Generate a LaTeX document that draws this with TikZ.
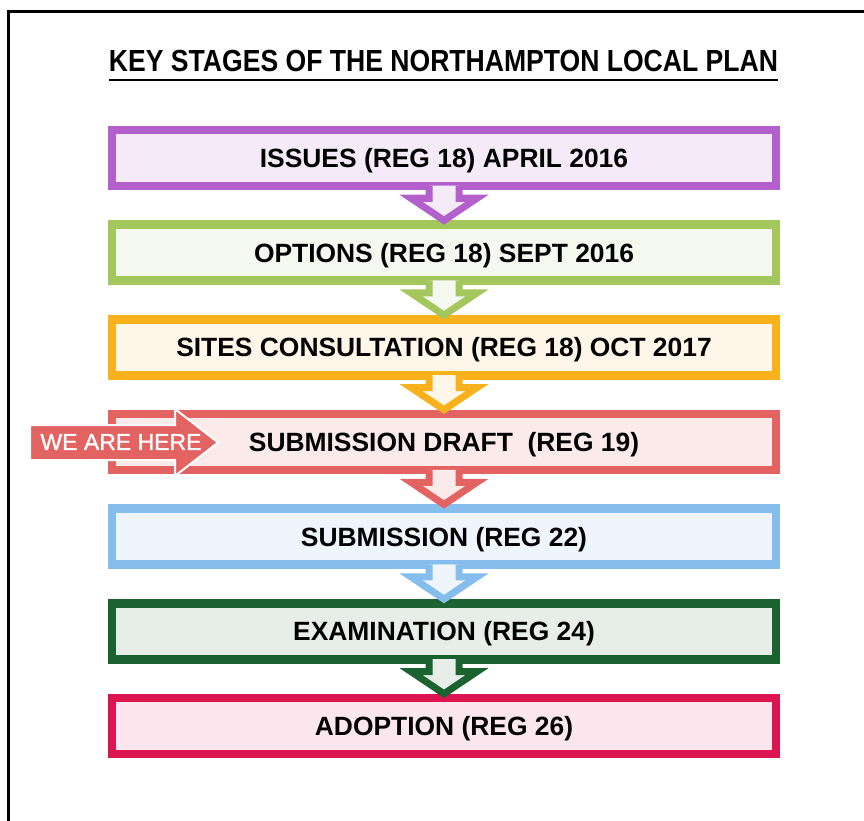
\documentclass[tikz,border=0pt]{standalone}
\usepackage{fontspec}
\setmainfont{Liberation Sans}
\newfontfamily\herefont[FakeBold=1.2]{Liberation Sans}
\definecolor{cA}{HTML}{B35FCC}\definecolor{fA}{HTML}{F5EAF8}
\definecolor{cB}{HTML}{A3C75D}\definecolor{fB}{HTML}{F4F8EE}
\definecolor{cC}{HTML}{FAB21C}\definecolor{fC}{HTML}{FEF6E8}
\definecolor{cD}{HTML}{E36363}\definecolor{fD}{HTML}{FBEAEA}
\definecolor{cE}{HTML}{85BEEC}\definecolor{fE}{HTML}{EEF5FC}
\definecolor{cF}{HTML}{1A6330}\definecolor{fF}{HTML}{E7EEE9}
\definecolor{cG}{HTML}{DC1450}\definecolor{fG}{HTML}{FBE6EE}
\begin{document}
\begin{tikzpicture}[x=1pt,y=1pt,
  stage/.style={draw, line width=8.5pt, minimum width=664pt, minimum height=56pt,
    inner sep=0pt, text height=18.9pt, text depth=0pt,
    font=\fontsize{26.4}{30}\selectfont\bfseries},
  flow/.style={line width=7pt, line join=miter, miter limit=10}]
\useasboundingbox (0,0) rectangle (864,-821);
\fill[white] (0,0) rectangle (864,-821);
\draw[line width=3pt] (8.5,-821) -- (8.5,-12) -- (864,-12);

\node[anchor=base, inner sep=0pt, font=\fontsize{30.5}{34}\selectfont\bfseries] (title) at (443.5,-72)
  {\scalebox{0.871}[1]{KEY STAGES OF THE NORTHAMPTON LOCAL PLAN}};
\draw[line width=2.5pt] ([yshift=-8pt]title.base west) -- ([yshift=-8pt]title.base east);

\node[stage, draw=cA, fill=fA] (b1) at (444,-158) {ISSUES (REG 18) APRIL 2016};
\node[stage, draw=cB, fill=fB] (b2) at (444,-252.67) {OPTIONS (REG 18) SEPT 2016};
\node[stage, draw=cC, fill=fC] (b3) at (444,-347.33) {SITES CONSULTATION (REG 18) OCT 2017};
\node[stage, draw=cD, fill=fD] (b4) at (444,-442) {SUBMISSION DRAFT\ \ (REG 19)};
\node[stage, draw=cE, fill=fE] (b5) at (444,-536.67) {SUBMISSION (REG 22)};
\node[stage, draw=cF, fill=fF] (b6) at (444,-631.33) {EXAMINATION (REG 24)};
\node[stage, draw=cG, fill=fG] (b7) at (444,-726) {ADOPTION (REG 26)};

\foreach \a/\b/\c/\f in {b1/b2/cA/fA, b2/b3/cB/fB, b3/b4/cC/fC, b4/b5/cD/fD, b5/b6/cE/fE, b6/b7/cF/fF}{
  \filldraw[flow, draw=\c, fill=\f]
    ([shift={(-15pt,4.5pt)}]\a.south) |- ([shift={(-33pt,-8pt)}]\a.south)
    -- (\b.north)
    -- ([shift={(33pt,-8pt)}]\a.south) -| ([shift={(15pt,4.5pt)}]\a.south);
}

\filldraw[fill=cD, draw=white, line width=2pt, line join=miter]
  (30,-425) -- (175,-425) -- (175,-409) -- (218,-442.5) -- (175,-476) -- (175,-460) -- (30,-460) -- cycle;
\node[inner sep=0pt, text=white, font=\herefont\fontsize{23}{26}\selectfont] (here) at (121,-442) {WE ARE HERE};
\end{tikzpicture}
\end{document}
